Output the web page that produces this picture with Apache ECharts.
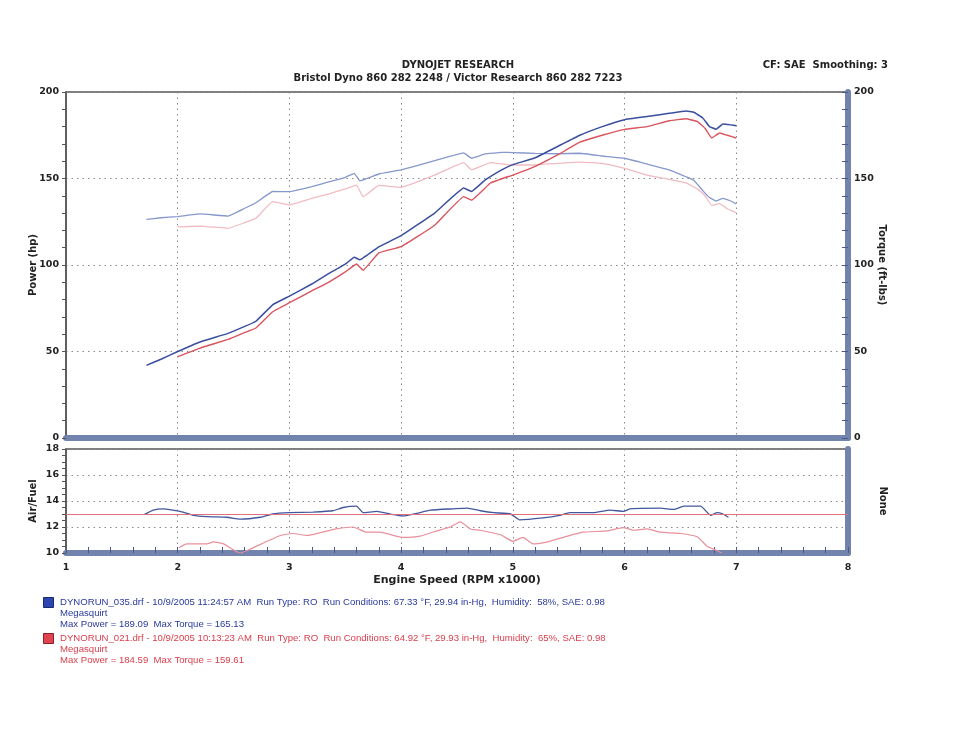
<!DOCTYPE html>
<html>
<head>
<meta charset="utf-8">
<script src="https://cdn.jsdelivr.net/npm/echarts@6/dist/echarts.min.js"></script>
<style>
  html, body { margin: 0; padding: 0; background: #fff; }
  #dyno { width: 960px; height: 741px; }
</style>
</head>
<body>
<div id="dyno"></div>
<script>
// run 035 (blue)
const rpm1 = [1.72, 1.85, 2.0, 2.2, 2.45, 2.6, 2.7, 2.85, 3.0, 3.2, 3.35, 3.5, 3.58, 3.63, 3.8, 4.0, 4.3, 4.56, 4.63, 4.75, 4.9, 5.0, 5.2, 5.4, 5.6, 5.8, 6.0, 6.2, 6.4, 6.55, 6.62, 6.7, 6.76, 6.82, 6.88, 6.95, 7.0]
const power1 = [42, 45.5, 50, 55.5, 60.5, 64.5, 67.5, 77, 82, 89, 95, 100.5, 104.5, 103, 110.5, 117, 130, 144.5, 142.5, 149, 155, 158, 162, 168.5, 175, 180, 184, 185.8, 187.7, 189, 188.3, 185, 180, 178.5, 181.5, 181, 180.5]
const torque1 = [126.4, 127.3, 128, 129.5, 128.3, 132.8, 136, 142.5, 142.4, 145.3, 148, 150.7, 153, 148.7, 152.6, 155, 160.3, 164.8, 161.7, 164.2, 165.1, 165, 164.5, 164.3, 164.6, 163, 161.7, 158.4, 155, 151, 149, 143, 139, 137, 138.5, 137, 135.3]

// run 021 (red)
const rpm2 = [2.0, 2.2, 2.45, 2.6, 2.7, 2.85, 3.0, 3.2, 3.35, 3.5, 3.6, 3.66, 3.8, 4.0, 4.3, 4.56, 4.63, 4.8, 5.0, 5.2, 5.4, 5.6, 5.8, 6.0, 6.2, 6.4, 6.55, 6.65, 6.72, 6.78, 6.85, 6.92, 7.0]
const power2 = [47, 52, 57, 61, 63.6, 73, 78.2, 85, 90, 96, 100.6, 97, 107, 110.6, 123, 139.5, 137.5, 147.4, 152, 157, 163.6, 171, 175, 178.4, 180, 183.4, 184.5, 183, 179, 173.4, 176.3, 175, 173.4]
const torque2 = [122, 122.5, 121.2, 124.5, 127, 136.6, 134.7, 138.5, 141, 144, 146.2, 139.5, 146, 144.9, 152, 159.2, 155, 159.2, 157.8, 157.8, 158.8, 159.5, 158.8, 155.9, 152, 149.5, 147.5, 144, 140, 134.5, 135.5, 132.5, 130.2]

// air/fuel
const afrRpm1 = [1.70, 1.78, 1.87, 2.02, 2.14, 2.26, 2.44, 2.56, 2.74, 2.85, 3.0, 3.21, 3.39, 3.48, 3.6, 3.66, 3.78, 3.9, 4.02, 4.14, 4.26, 4.47, 4.59, 4.71, 4.83, 4.98, 5.06, 5.27, 5.42, 5.51, 5.72, 5.87, 5.99, 6.05, 6.32, 6.44, 6.53, 6.68, 6.77, 6.83, 6.88, 6.93]
const afr1 = [12.95, 13.3, 13.4, 13.2, 12.9, 12.8, 12.75, 12.6, 12.75, 13.0, 13.1, 13.15, 13.25, 13.5, 13.6, 13.1, 13.2, 13.0, 12.85, 13.05, 13.3, 13.4, 13.45, 13.25, 13.1, 13.0, 12.55, 12.7, 12.9, 13.1, 13.1, 13.3, 13.2, 13.4, 13.45, 13.35, 13.6, 13.6, 12.9, 13.1, 13.0, 12.75]
const afrRpm2 = [2.01, 2.08, 2.26, 2.32, 2.41, 2.56, 2.65, 2.8, 2.92, 3.03, 3.16, 3.27, 3.42, 3.57, 3.69, 3.81, 4.02, 4.17, 4.32, 4.44, 4.53, 4.62, 4.71, 4.89, 5.0, 5.09, 5.18, 5.33, 5.49, 5.63, 5.84, 5.99, 6.08, 6.2, 6.32, 6.5, 6.65, 6.74, 6.81, 6.87]
const afr2 = [10.4, 10.7, 10.7, 10.85, 10.7, 10.0, 10.3, 10.9, 11.35, 11.5, 11.35, 11.55, 11.85, 12.0, 11.6, 11.6, 11.2, 11.3, 11.7, 12.0, 12.4, 11.85, 11.75, 11.4, 10.9, 11.2, 10.7, 10.9, 11.3, 11.6, 11.7, 11.95, 11.75, 11.85, 11.6, 11.5, 11.25, 10.5, 10.25, 10.0]
const afrTarget = 13

const legend1 = [
  'DYNORUN_035.drf - 10/9/2005 11:24:57 AM  Run Type: RO  Run Conditions: 67.33 °F, 29.94 in-Hg,  Humidity:  58%, SAE: 0.98',
  'Megasquirt',
  'Max Power = 189.09  Max Torque = 165.13'
]
const legend2 = [
  'DYNORUN_021.drf - 10/9/2005 10:13:23 AM  Run Type: RO  Run Conditions: 64.92 °F, 29.93 in-Hg,  Humidity:  65%, SAE: 0.98',
  'Megasquirt',
  'Max Power = 184.59  Max Torque = 159.61'
]

const pair = (xs, ys) => xs.map((x, i) => [x, ys[i]])

const FONT = 'DejaVu Sans'
const frameBlue = '#7283ae'
const dots = { type: [1.5, 4], color: '#8a8a8a', width: 1 }
const boldLbl = { fontFamily: FONT, fontWeight: 'bold', fontSize: 9.5, color: '#222' }
const axisName = { fontFamily: FONT, fontWeight: 'bold', fontSize: 10, color: '#222' }

const chart = echarts.init(document.getElementById('dyno'))

const legendText = (lines, color, top) => lines.map((t, i) => ({
  type: 'text', left: 60, top: top + i * 11,
  style: { text: t, fill: color, font: '9.6px "Liberation Sans"' }
}))

const option = {
  backgroundColor: '#fff',
  animation: false,
  title: [
    {
      text: 'DYNOJET RESEARCH',
      subtext: 'Bristol Dyno 860 282 2248 / Victor Research 860 282 7223',
      left: 458, top: 60, textAlign: 'center', itemGap: 3, padding: 0,
      textStyle: { fontFamily: FONT, fontWeight: 'bold', fontSize: 10, color: '#222' },
      subtextStyle: { fontFamily: FONT, fontWeight: 'bold', fontSize: 10, color: '#222' }
    },
    {
      text: 'CF: SAE  Smoothing: 3',
      right: 72, top: 60, padding: 0,
      textStyle: { fontFamily: FONT, fontWeight: 'bold', fontSize: 10, color: '#222' }
    }
  ],
  grid: [
    { left: 66, right: 112, top: 92, height: 346, show: true, backgroundColor: '#fff',
      borderColor: '#555', borderWidth: 1.5 },
    { left: 66, right: 112, top: 449, height: 104, show: true, backgroundColor: '#fff',
      borderColor: '#555', borderWidth: 1.5 }
  ],
  xAxis: [
    { type: 'value', gridIndex: 0, min: 1, max: 8, interval: 1,
      axisLine: { lineStyle: { color: frameBlue, width: 6 } },
      axisTick: { show: false }, axisLabel: { show: false },
      splitLine: { show: true, lineStyle: dots } },
    { type: 'value', gridIndex: 1, min: 1, max: 8, interval: 1,
      axisLine: { lineStyle: { color: frameBlue, width: 6 } },
      axisTick: { show: true, inside: true, length: 6, lineStyle: { color: '#4a5a86' } },
      minorTick: { show: true, splitNumber: 5, length: 6, lineStyle: { color: '#4a5a86' } },
      axisLabel: Object.assign({ margin: 10 }, boldLbl),
      splitLine: { show: true, lineStyle: dots },
      name: 'Engine Speed (RPM x1000)', nameLocation: 'middle', nameGap: 22,
      nameTextStyle: Object.assign({}, axisName, { fontSize: 11 }) }
  ],
  yAxis: [
    { type: 'value', gridIndex: 0, position: 'left', min: 0, max: 200, interval: 50,
      axisLine: { show: true, lineStyle: { color: '#555', width: 1.5 } },
      axisTick: { show: true, length: 4, lineStyle: { color: '#555' } },
      minorTick: { show: true, splitNumber: 5, length: 4, lineStyle: { color: '#555' } },
      axisLabel: Object.assign({ margin: 7 }, boldLbl),
      splitLine: { show: true, lineStyle: dots },
      name: 'Power (hp)', nameLocation: 'middle', nameGap: 28, nameMoveOverlap: false, nameTextStyle: axisName },
    { type: 'value', gridIndex: 0, position: 'right', min: 0, max: 200, interval: 50,
      axisLine: { show: true, lineStyle: { color: frameBlue, width: 6 } },
      axisTick: { show: true, inside: true, length: 6, lineStyle: { color: '#4a5a86' } },
      minorTick: { show: true, splitNumber: 5, length: 6, lineStyle: { color: '#4a5a86' } },
      axisLabel: Object.assign({ margin: 6 }, boldLbl),
      splitLine: { show: false },
      name: 'Torque (ft-lbs)', nameLocation: 'middle', nameGap: 29, nameMoveOverlap: false, nameRotate: -90, nameTextStyle: axisName },
    { type: 'value', gridIndex: 1, position: 'left', min: 10, max: 18, interval: 2,
      axisLine: { show: true, lineStyle: { color: '#555', width: 1.5 } },
      axisTick: { show: true, length: 4, lineStyle: { color: '#555' } },
      minorTick: { show: true, splitNumber: 4, length: 4, lineStyle: { color: '#555' } },
      axisLabel: Object.assign({ margin: 7 }, boldLbl),
      splitLine: { show: true, lineStyle: dots },
      name: 'Air/Fuel', nameLocation: 'middle', nameGap: 28, nameMoveOverlap: false, nameTextStyle: axisName },
    { type: 'value', gridIndex: 1, position: 'right', min: 10, max: 18, interval: 2,
      axisLine: { show: true, lineStyle: { color: frameBlue, width: 6 } },
      axisTick: { show: false }, axisLabel: { show: false }, splitLine: { show: false },
      name: 'None', nameLocation: 'middle', nameGap: 30, nameRotate: -90, nameTextStyle: axisName }
  ],
  series: [
    { name: 'Torque 021', type: 'line', xAxisIndex: 0, yAxisIndex: 1, data: pair(rpm2, torque2),
      showSymbol: false, smooth: 0.08, lineStyle: { color: '#f0bcc2', width: 1.3 } },
    { name: 'Torque 035', type: 'line', xAxisIndex: 0, yAxisIndex: 1, data: pair(rpm1, torque1),
      showSymbol: false, smooth: 0.08, lineStyle: { color: '#8698cc', width: 1.3 } },
    { name: 'Power 021', type: 'line', xAxisIndex: 0, yAxisIndex: 0, data: pair(rpm2, power2),
      showSymbol: false, smooth: 0.08, lineStyle: { color: '#d9545e', width: 1.4 } },
    { name: 'Power 035', type: 'line', xAxisIndex: 0, yAxisIndex: 0, data: pair(rpm1, power1),
      showSymbol: false, smooth: 0.08, lineStyle: { color: '#3a4e9e', width: 1.5 } },
    { name: 'AFR 021', type: 'line', xAxisIndex: 1, yAxisIndex: 2, data: pair(afrRpm2, afr2),
      showSymbol: false, smooth: 0.15, lineStyle: { color: '#e8909b', width: 1.2 },
      markLine: { silent: true, symbol: 'none', label: { show: false },
        lineStyle: { type: 'solid', color: '#e0707c', width: 1.2 },
        data: [{ yAxis: afrTarget }] } },
    { name: 'AFR 035', type: 'line', xAxisIndex: 1, yAxisIndex: 2, data: pair(afrRpm1, afr1),
      showSymbol: false, smooth: 0.15, lineStyle: { color: '#42589e', width: 1.3 } }
  ],
  graphic: [
    { type: 'rect', left: 43, top: 597, shape: { width: 10, height: 10 },
      style: { fill: '#2e44b0', stroke: '#1a2a70', lineWidth: 1 } },
    { type: 'rect', left: 43, top: 633, shape: { width: 10, height: 10 },
      style: { fill: '#e04450', stroke: '#8a2028', lineWidth: 1 } }
  ].concat(legendText(legend1, '#2a3a9c', 597), legendText(legend2, '#d8404e', 633))
}

chart.setOption(option)
</script>
</body>
</html>
